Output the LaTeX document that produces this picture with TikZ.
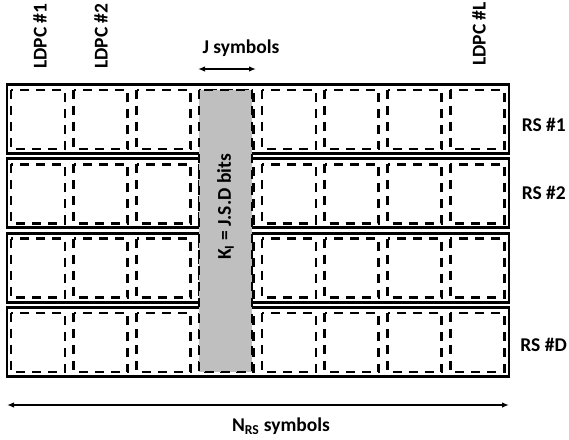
\documentclass[tikz,border=0pt]{standalone}
\usepackage{fontspec}
\setmainfont{Carlito}
\usetikzlibrary{arrows.meta}
\begin{document}
\begin{tikzpicture}[x=1pt,y=-1pt,
  lbl/.style={font=\fontsize{19.5}{23}\selectfont\bfseries, inner sep=0pt},
  rowbox/.style={draw=black, line width=2.8pt},
  ldpcbox/.style={draw=black, line width=2.7pt, dash pattern=on 9pt off 7pt},
  kbar/.style={fill=black!25, draw=black, line width=2.7pt, dash pattern=on 9pt off 7pt},
  dimarrow/.style={line width=1.5pt, {Latex[length=7pt,width=5.5pt]}-{Latex[length=7pt,width=5.5pt]}}
]
\useasboundingbox (0,0) rectangle (569,439);
% rows
\foreach \r in {0,1,2,3}{
  \pgfmathsetmacro{\rt}{84.5+74.3*\r}
  \pgfmathsetmacro{\rb}{\rt+69}
  \draw[rowbox] (7,\rt) rectangle (509,\rb);
  \foreach \c in {0,...,7}{
    \pgfmathsetmacro{\lft}{11+62.75*\c}
    \pgfmathsetmacro{\rgt}{\lft+54}
    \draw[ldpcbox] (\lft,\rt+5.5) rectangle (\rgt,\rb-4.5);
  }
}
% gray column
\draw[kbar] (199,90) rectangle (252,372);
\node[lbl, rotate=90] (k) at (225.5,207) {K\textsubscript{I} = J.S.D bits};
% labels
\node[lbl, rotate=90, anchor=west] (l1) at (40,69) {LDPC \#1};
\node[lbl, rotate=90, anchor=west] (l2) at (101,69) {LDPC \#2};
\node[lbl, rotate=90, anchor=west] (lL) at (479,66) {LDPC \#L};
\node[lbl] (js) at (241,48) {J symbols};
\coordinate (ja) at (198,69);
\coordinate (jb) at (256,69);
\draw[dimarrow] (ja) -- (jb);
\node[lbl, anchor=east] (rs1) at (566,125) {RS \#1};
\node[lbl, anchor=east] (rs2) at (566,193) {RS \#2};
\node[lbl, anchor=east] (rsd) at (567,345) {RS \#D};
\coordinate (na) at (7,405);
\coordinate (nb) at (509,405);
\draw[dimarrow] (na) -- (nb);
\node[lbl] (nrs) at (281,426) {N\textsubscript{RS} symbols};
\end{tikzpicture}
\end{document}
